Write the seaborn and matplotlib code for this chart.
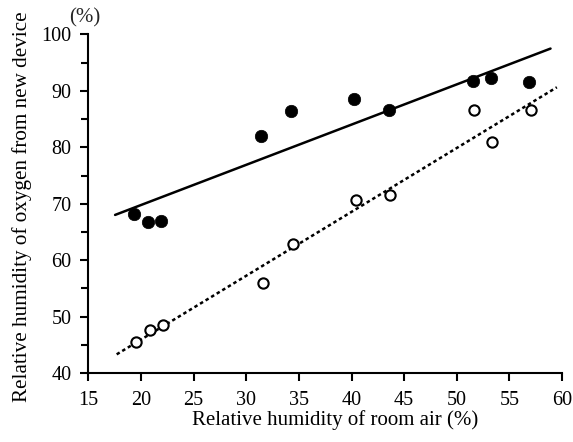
import numpy as np
import pandas as pd
import matplotlib
matplotlib.use("Agg")
import matplotlib.pyplot as plt
import seaborn as sns
from matplotlib.ticker import MultipleLocator

# Data
room_filled = [19.35, 20.7, 21.9, 31.45, 34.3, 40.2, 43.6, 51.5, 53.2, 56.9]
device_filled = [68.1, 66.7, 67.0, 82.0, 86.5, 88.6, 86.6, 91.8, 92.3, 91.5]
room_open = [19.5, 20.9, 22.1, 31.55, 34.4, 40.4, 43.7, 51.6, 53.3, 57.0]
device_open = [45.5, 47.6, 48.5, 56.0, 62.8, 70.6, 71.5, 86.6, 81.0, 86.6]
x_ticks = [15, 20, 25, 30, 35, 40, 45, 50, 55, 60]
y_ticks = [40, 50, 60, 70, 80, 90, 100]
fit_range_filled = [17.55, 58.9]
fit_range_open = [17.7, 59.5]

sns.set_theme(style="ticks")
plt.rcParams['font.family'] = ['Liberation Serif', 'DejaVu Serif']

fig = plt.figure(figsize=(5.73, 4.42), dpi=100)
ax = fig.add_axes([0.154, 0.156, 0.827, 0.766])

df_f = pd.DataFrame({"x": room_filled, "y": device_filled})
df_o = pd.DataFrame({"x": room_open, "y": device_open})

# regression lines
for df, rng, ls in [(df_f, fit_range_filled, '-'), (df_o, fit_range_open, (0, (1.4, 1.2)))]:
    k, b = np.polyfit(df["x"], df["y"], 1)
    xs = np.array(rng)
    sns.lineplot(x=xs, y=k * xs + b, ax=ax, color='black', lw=1.8, linestyle=ls)

sns.scatterplot(data=df_f, x="x", y="y", ax=ax, color='black', s=80,
                edgecolor='black', linewidth=0.5, zorder=3)
sns.scatterplot(data=df_o, x="x", y="y", ax=ax, facecolor='white', s=55,
                edgecolor='black', linewidth=1.5, zorder=3)

ax.set_xlim(15, 60)
ax.set_ylim(40, 100)
ax.set_xticks(x_ticks)
ax.set_yticks(y_ticks)
ax.yaxis.set_minor_locator(MultipleLocator(5))
sns.despine(ax=ax)
for s in ['left', 'bottom']:
    ax.spines[s].set_linewidth(1.5)
    ax.spines[s].set_color('black')
ax.tick_params(axis='both', which='major', length=6, width=1.5, labelsize=14.5,
               color='black', labelcolor='black')
ax.tick_params(axis='x', which='major', pad=7)
ax.tick_params(axis='y', which='major', pad=6)
ax.tick_params(axis='y', which='minor', length=5, width=1.5, color='black')

ax.set_xlabel("Relative humidity of room air (%)", fontsize=15, color='black', labelpad=0)
ax.set_ylabel("Relative humidity of oxygen from new device", fontsize=15.2, color='black', labelpad=7)
ax.xaxis.label.set_x(0.521)
ax.yaxis.label.set_y(0.49)
ax.text(-0.008, 1.022, "(%)", transform=ax.transAxes, fontsize=15, ha='center', va='bottom')
ax.grid(False)

fig.savefig("out.png", dpi=100)
